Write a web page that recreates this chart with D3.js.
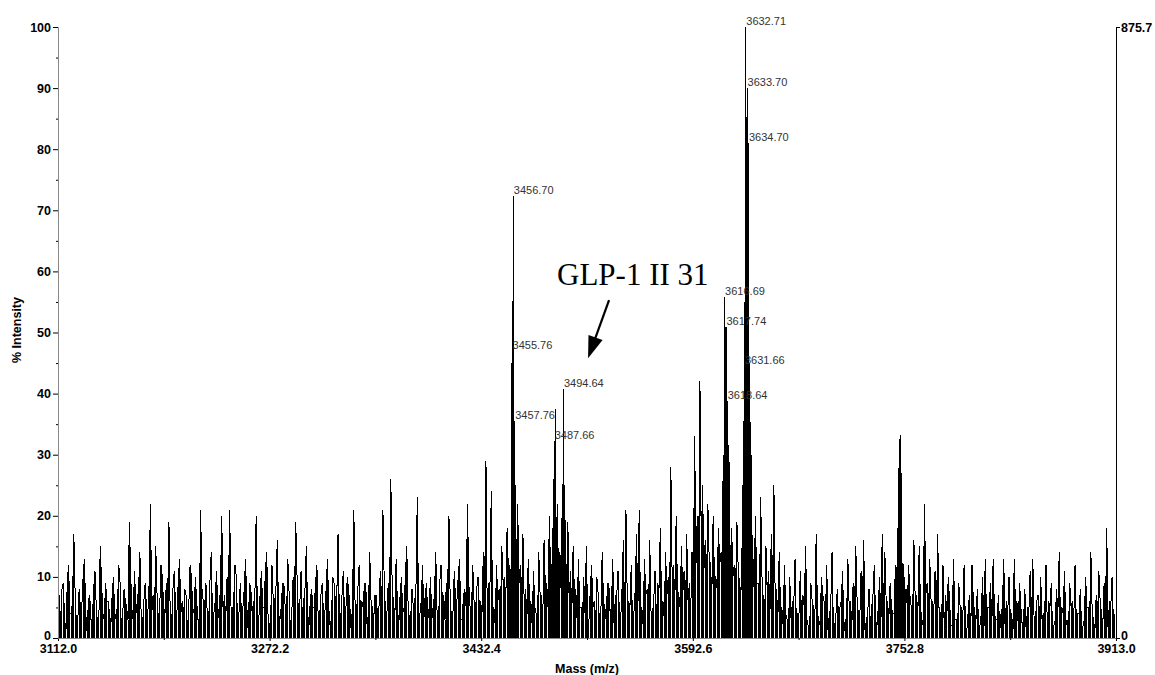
<!DOCTYPE html>
<html>
<head>
<meta charset="utf-8">
<script src="https://cdn.jsdelivr.net/npm/d3@7"></script>
<style>
  body { margin: 0; background: #fff; }
  svg { display: block; }
  .tick text { font-family: "Liberation Sans Narrow", "Arial Narrow", sans-serif; font-weight: bold; font-size: 12.5px; fill: #000; }
</style>
</head>
<body>
<svg id="chart" width="1155" height="675"></svg>
<script>
// x ticks (m/z) and y ticks (% intensity)
var xTicks = [3112.0, 3272.2, 3432.4, 3592.6, 3752.8, 3913.0];
var yTicks = [0, 10, 20, 30, 40, 50, 60, 70, 80, 90, 100];
var rightMax = "875.7";

// background noise at even m/z, 3112, 3114, ...
var noiseStart = 3112, noiseStep = 2;
var noise = [
  14, 3, 9, 1, 12, 4, 17, 2, 8, 5, 13, 1, 7, 3, 11, 2, 15, 4, 9, 6,
  2, 10, 4, 12, 1, 8, 5, 19, 3, 11, 6, 14, 2, 9, 4, 22, 7, 15, 3, 12,
  5, 9, 19, 2, 11, 4, 13, 6, 8, 1, 12, 5, 10, 3, 21, 6, 9, 2, 14, 4,
  11, 3, 20, 7, 10, 21, 4, 12, 2, 9, 5, 13, 1, 8, 6, 20, 3, 11, 5, 14,
  2, 12, 6, 16, 3, 9, 5, 13, 1, 10, 19, 4, 11, 6, 15, 2, 8, 5, 12, 3,
  9, 4, 13, 2, 10, 6, 17, 3, 11, 5, 8, 1, 21, 4, 12, 6, 9, 2, 14, 5,
  7, 3, 11, 21, 4, 9, 26, 6, 13, 2, 10, 5, 15, 3, 8, 6, 23, 4, 12, 7,
  3, 10, 5, 14, 2, 12, 7, 9, 20, 4, 11, 6, 13, 3, 8, 22, 5, 12, 4, 10,
  6, 14, 29, 9, 24, 5, 12, 8, 15, 10, 18, 12, 18, 14, 22, 12, 17, 8, 13, 6,
  11, 4, 14, 7, 16, 9, 20, 12, 18, 22, 14, 24, 16, 19, 11, 15, 8, 13, 5, 10,
  15, 3, 12, 6, 10, 2, 14, 5, 9, 4, 13, 7, 11, 3, 16, 21, 6, 12, 4, 17,
  21, 5, 13, 8, 16, 4, 11, 9, 18, 6, 14, 10, 28, 12, 20, 7, 15, 11, 17, 9,
  14, 33, 20, 42, 25, 16, 22, 12, 20, 10, 18, 14, 24, 22, 31, 18, 12, 19, 9, 16,
  24, 18, 27, 14, 20, 9, 23, 6, 15, 11, 17, 25, 8, 14, 5, 12, 3, 10, 6, 13,
  4, 11, 7, 15, 2, 9, 5, 17, 3, 10, 6, 12, 4, 14, 2, 8, 5, 11, 3, 13,
  6, 9, 15, 4, 11, 16, 3, 8, 5, 12, 2, 10, 17, 14, 6, 9, 4, 12, 8, 10,
  12, 8, 12, 5, 16, 7, 15, 3, 22, 9, 13, 6, 11, 17, 4, 12, 7, 10, 2, 13,
  3, 9, 5, 12, 1, 7, 12, 4, 8, 2, 10, 13, 5, 9, 13, 3, 7, 4, 13, 6,
  10, 4, 13, 6, 9, 2, 8, 5, 11, 13, 3, 7, 10, 4, 12, 6, 9, 2, 8, 14,
  5, 11, 3, 9, 6, 12, 4, 8, 2, 10, 5, 14, 3, 7, 11, 4, 9, 18, 6, 10,
  4
];
// background noise at odd m/z, 3113, 3115, ...
var noiseOdd = [
  5, 8, 3, 9, 4, 6, 7, 3, 5, 10, 4, 6, 3, 8, 5, 4, 9, 3, 6, 4,
  7, 3, 5, 9, 4, 6, 3, 11, 5, 4, 8, 3, 6, 5, 9, 4, 3, 7, 5, 10,
  4, 6, 3, 8, 5, 9, 4, 3, 7, 5, 10, 4, 6, 3, 8, 5, 4, 9, 3, 6,
  5, 9, 4, 3, 7, 5, 6, 10, 4, 3, 8, 5, 9, 4, 6, 3, 7, 5, 11, 4,
  3, 6, 8, 4, 5, 9, 3, 7, 4, 6, 10, 5, 3, 8, 4, 6, 5, 9, 3, 7,
  4, 8, 5, 3, 9, 6, 4, 7, 3, 10, 5, 6, 4, 8, 3, 5, 9, 4, 6, 3,
  7, 5, 3, 9, 4, 6, 8, 3, 5, 7, 4, 10, 6, 3, 5, 8, 4, 6, 3, 9,
  5, 3, 7, 4, 9, 6, 3, 8, 5, 4, 6, 10, 3, 7, 5, 9, 4, 6, 8, 5,
  4, 7, 3, 8, 5, 2, 6, 4, 9, 6, 11, 8, 13, 10, 9, 7, 5, 3, 6, 2,
  5, 2, 7, 3, 8, 5, 10, 6, 12, 9, 7, 11, 8, 6, 4, 7, 3, 5, 2, 4,
  3, 8, 5, 2, 7, 4, 6, 3, 9, 5, 2, 7, 4, 8, 3, 6, 5, 2, 8, 4,
  5, 2, 7, 3, 4, 6, 2, 8, 5, 3, 7, 4, 9, 6, 8, 5, 7, 3, 6, 4,
  8, 12, 10, 15, 11, 9, 13, 7, 10, 8, 12, 9, 14, 16, 12, 10, 8, 11, 7, 12,
  14, 10, 12, 8, 9, 5, 10, 3, 7, 4, 8, 6, 3, 5, 2, 4, 1, 3, 5, 2,
  4, 2, 5, 3, 1, 6, 3, 4, 2, 7, 3, 1, 5, 2, 4, 3, 6, 1, 3, 5,
  2, 4, 6, 3, 5, 1, 4, 2, 7, 3, 5, 2, 4, 6, 3, 5, 4, 7, 9, 12,
  8, 5, 7, 3, 6, 4, 5, 2, 7, 3, 6, 4, 2, 5, 3, 1, 4, 6, 2, 3,
  1, 5, 3, 2, 4, 1, 6, 3, 2, 4, 1, 3, 5, 2, 4, 3, 1, 5, 2, 4,
  3, 1, 4, 2, 5, 3, 1, 4, 2, 3, 6, 1, 3, 4, 2, 5, 1, 3, 4, 2,
  4, 2, 1, 5, 3, 2, 4, 1, 3, 5, 2, 4, 1, 3, 6, 2, 4, 1, 5, 3
];

// isotope clusters, finer sampling
var peakMass = [
  3454.6, 3455.0, 3455.3, 3455.76, 3456.1, 3456.3, 3456.70, 3457.0, 3457.3, 3457.76, 3458.1, 3458.5, 3458.8,
  3486.7, 3487.2, 3487.66, 3488.1, 3488.6, 3489.1,
  3493.6, 3494.1, 3494.64, 3495.1, 3495.6, 3496.2,
  3615.6, 3616.2, 3616.69, 3617.1, 3617.74, 3618.1, 3618.64, 3619.1, 3619.6, 3620.1,
  3630.6, 3631.2, 3631.66, 3632.0, 3632.3, 3632.71, 3633.0, 3633.3, 3633.70, 3634.0, 3634.3, 3634.70, 3635.0, 3635.4, 3635.8, 3636.2, 3636.7, 3637.2,
  3747.5, 3748.3, 3748.8, 3749.5, 3750.0, 3750.5, 3751.0
];
var peakInt = [
  10, 30, 12, 47.0, 54, 40, 72.3, 50, 30, 35.5, 20, 25, 8,
  18, 10, 32.2, 15, 37.5, 12,
  20, 12, 40.8, 18, 25, 9,
  30, 20, 55.8, 35, 50.9, 30, 38.8, 20, 31.6, 15,
  25, 30, 44.5, 55, 45, 100, 55, 52, 90.0, 50, 45, 81.0, 50, 35, 45, 28, 30, 18,
  18, 27.8, 15, 33.2, 20, 27, 12
];

// labelled peaks
var labelMass = [3632.71, 3633.70, 3634.70, 3456.70, 3616.69, 3617.74, 3455.76, 3631.66, 3494.64, 3618.64, 3457.76, 3487.66];

// annotation arrow: tail and tip in (m/z, %)
var arrowTail = [3529.2, 55.3];
var arrowTip = [3513.3, 45.8];

var svg = d3.select("#chart");
var x = d3.scaleLinear().domain([3112, 3913]).range([58, 1116]);
var y = d3.scaleLinear().domain([0, 100]).range([638, 27]);

// build spectrum points
var pts = [];
noise.forEach(function(v, i) { pts.push({m: noiseStart + i * noiseStep, v: v}); });
noiseOdd.forEach(function(v, i) { pts.push({m: noiseStart + 1 + i * noiseStep, v: v}); });
peakMass.forEach(function(m, i) { pts.push({m: m, v: peakInt[i]}); });
pts.sort(function(a, b) { return a.m - b.m; });

// sticks from the baseline, then the profile line on top
svg.append("g")
  .attr("shape-rendering", "crispEdges")
  .selectAll("line")
  .data(pts)
  .enter().append("line")
  .attr("x1", function(d) { return x(d.m); })
  .attr("x2", function(d) { return x(d.m); })
  .attr("y1", y(0))
  .attr("y2", function(d) { return y(d.v); })
  .attr("stroke", "#000")
  .attr("stroke-width", 1);

var line = d3.line()
  .x(function(d) { return x(d.m); })
  .y(function(d) { return y(d.v); });

svg.append("path")
  .datum(pts)
  .attr("d", line)
  .attr("fill", "none")
  .attr("stroke", "#000")
  .attr("stroke-width", 1)
  .attr("shape-rendering", "crispEdges");

// axes
var xAxis = svg.append("g")
  .attr("transform", "translate(0,638)")
  .call(d3.axisBottom(x).tickValues(xTicks).tickFormat(d3.format(".1f")).tickSize(3).tickPadding(3));
var xMinor = d3.pairs(xTicks).map(function(p) { return (p[0] + p[1]) / 2; });
svg.append("g")
  .attr("transform", "translate(0,638)")
  .call(d3.axisBottom(x).tickValues(xMinor).tickFormat("").tickSize(2))
  .select(".domain").remove();

var yAxis = svg.append("g")
  .attr("transform", "translate(58,0)")
  .call(d3.axisLeft(y).tickValues(yTicks).tickSize(5).tickPadding(2));
yAxis.selectAll(".tick text").filter(function(d) { return d === 0; }).attr("dy", "0.1em");
var yMinor = d3.pairs(yTicks).map(function(p) { return (p[0] + p[1]) / 2; });
svg.append("g")
  .attr("transform", "translate(58,0)")
  .call(d3.axisLeft(y).tickValues(yMinor).tickFormat("").tickSize(2))
  .select(".domain").remove();

svg.selectAll(".domain").attr("stroke", "#888");

// right axis (absolute intensity)
var yr = d3.scaleLinear().domain([0, 1]).range([638, 27]);
var rAxis = svg.append("g")
  .attr("transform", "translate(1116,0)")
  .call(d3.axisRight(yr).tickValues([0, 1]).tickFormat(function(d) { return d ? rightMax : "0"; }).tickSize(4).tickPadding(1));
rAxis.select(".domain").attr("stroke", "#000");
rAxis.selectAll(".tick text").filter(function(d) { return d === 0; }).attr("dy", "0.1em");

// axis titles
svg.append("text")
  .attr("x", 587).attr("y", 673)
  .attr("text-anchor", "middle")
  .style("font-family", "'Liberation Sans Narrow', 'Arial Narrow', sans-serif")
  .style("font-weight", "bold").style("font-size", "12.5px")
  .text("Mass (m/z)");
svg.append("text")
  .attr("transform", "translate(21,330) rotate(-90)")
  .attr("text-anchor", "middle")
  .style("font-family", "'Liberation Sans Narrow', 'Arial Narrow', sans-serif")
  .style("font-weight", "bold").style("font-size", "12.5px")
  .text("% Intensity");

// peak labels
svg.selectAll(".plabel")
  .data(labelMass)
  .enter().append("text")
  .attr("class", "plabel")
  .attr("x", function(m) { return x(m) + 0.5; })
  .attr("y", function(m) {
    var i = peakMass.indexOf(m);
    return y(peakInt[i]) - 2;
  })
  .style("font-family", "Arial, 'Liberation Sans', sans-serif")
  .style("font-size", "11px")
  .attr("fill", "#333")
  .text(function(m) { return m.toFixed(2); });

// annotation
svg.append("text")
  .attr("x", 557).attr("y", 285)
  .style("font-family", "'Liberation Serif', 'Times New Roman', serif")
  .style("font-size", "31px")
  .attr("fill", "#000")
  .text("GLP-1 II 31");

var tx = x(arrowTail[0]), ty = y(arrowTail[1]);
var hx = x(arrowTip[0]), hy = y(arrowTip[1]);
var len = Math.hypot(hx - tx, hy - ty);
var ux = (hx - tx) / len, uy = (hy - ty) / len;
var headLen = 22, headHalf = 7.5;
var bx = hx - ux * headLen, by = hy - uy * headLen;

svg.append("line")
  .attr("x1", tx).attr("y1", ty)
  .attr("x2", bx + ux * 2).attr("y2", by + uy * 2)
  .attr("stroke", "#000").attr("stroke-width", 2.2);
svg.append("path")
  .attr("d", "M" + hx + "," + hy +
             "L" + (bx - uy * headHalf) + "," + (by + ux * headHalf) +
             "L" + (bx + uy * headHalf) + "," + (by - ux * headHalf) + "Z")
  .attr("fill", "#000");
</script>
</body>
</html>
